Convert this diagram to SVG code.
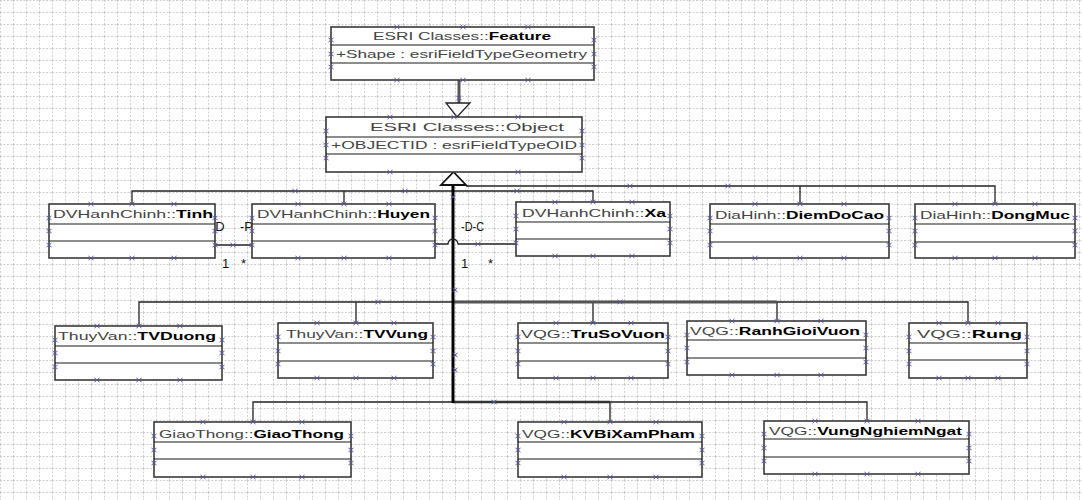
<svg xmlns="http://www.w3.org/2000/svg" xmlns:xlink="http://www.w3.org/1999/xlink" width="1082" height="500" viewBox="0 0 1082 500">
<style>
.box{fill:#fff;stroke:#3a3a3a;stroke-width:1.6}
.sep{stroke:#1a1a1a;stroke-width:1.1}
.t{font-family:"Liberation Sans",Arial,sans-serif;font-size:11.5px;fill:#444}
.b{font-weight:bold;fill:#000}
.lbl{font-family:"Liberation Sans",Arial,sans-serif;font-size:13px;fill:#111}
.ln{fill:none;stroke:#222;stroke-width:1.3}
</style>
<defs>
<pattern id="grid" width="13" height="12" patternUnits="userSpaceOnUse">
<path d="M0,0.5 H13 M0.5,0 V12" fill="none" stroke="#c4c4c4" stroke-width="0.8" stroke-dasharray="2,1.5"/>
</pattern>
<path id="x" d="M-2.5,-2 L2.5,2 M-2.5,2 L2.5,-2" fill="none" stroke="#55559a" stroke-width="1"/>
</defs>
<rect width="1082" height="500" fill="#fff"/>
<rect width="1082" height="500" fill="url(#grid)"/>

<g id="connectors">
<line x1="459" y1="80" x2="459" y2="103" stroke="#555" stroke-width="3"/>
<polygon points="446,103 470,103 457,117" fill="#fff" stroke="#222" stroke-width="1.3"/>
<path class="ln" d="M132,204 V191 H593 V202 M344,191 V204"/>
<path class="ln" d="M466,186 H995 V204 M800,186 V204"/>
<path class="ln" d="M139,326 V302 H968 V323 M356,302 V323 M593,302 V323 M777,302 V321"/>
<path d="M453,302 H777" stroke="#555" stroke-width="3" fill="none"/>
<path class="ln" d="M253,422 V402 H867 V421 M610,402 V422"/>
<path d="M453,402 H610" stroke="#333" stroke-width="2.5" fill="none"/>
<line x1="453" y1="185" x2="453" y2="403" stroke="#000" stroke-width="3"/>
<polygon points="441,185 466,185 453.5,172" fill="#fff" stroke="#111" stroke-width="1.8"/>
<path class="ln" d="M215,245 H252"/>
<path class="ln" d="M435,244 H448 A5,5 0 0 1 458,244 H516"/>
<text class="lbl" x="211" y="231">-D</text>
<text class="lbl" x="240" y="231">-P</text>
<text class="lbl" x="222" y="268">1</text>
<text class="lbl" x="241" y="268">*</text>
<text class="lbl" x="461" y="231" textLength="23" lengthAdjust="spacingAndGlyphs">-D-C</text>
<text class="lbl" x="461" y="268">1</text>
<text class="lbl" x="488" y="268">*</text>
<use href="#x" x="295" y="191"/><use href="#x" x="405" y="191"/><use href="#x" x="517" y="191"/>
<use href="#x" x="630" y="186"/><use href="#x" x="728" y="186"/><use href="#x" x="459" y="98"/>
<use href="#x" x="453" y="197"/><use href="#x" x="378" y="302"/><use href="#x" x="620" y="302"/>
<use href="#x" x="455" y="290"/><use href="#x" x="455" y="355"/><use href="#x" x="455" y="370"/>
<use href="#x" x="494" y="402"/><use href="#x" x="233" y="245"/><use href="#x" x="478" y="244"/>
</g>

<g id="feature">
<rect class="box" x="331" y="27" width="263" height="53"/>
<line class="sep" x1="331" y1="45" x2="594" y2="45"/><line class="sep" x1="331" y1="63" x2="594" y2="63"/>
<text class="t" x="373" y="40" textLength="178" lengthAdjust="spacingAndGlyphs">ESRI Classes::<tspan class="b">Feature</tspan></text>
<text class="t" x="336" y="58" textLength="251" lengthAdjust="spacingAndGlyphs">+Shape : esriFieldTypeGeometry</text>
<use href="#x" x="397" y="27"/><use href="#x" x="463" y="27"/><use href="#x" x="528" y="27"/>
<use href="#x" x="397" y="80"/><use href="#x" x="463" y="80"/><use href="#x" x="528" y="80"/>
<use href="#x" x="331" y="40"/><use href="#x" x="331" y="54"/><use href="#x" x="331" y="67"/>
<use href="#x" x="594" y="40"/><use href="#x" x="594" y="54"/><use href="#x" x="594" y="67"/>
</g>

<g id="object">
<rect class="box" x="326" y="117" width="256" height="55"/>
<line class="sep" x1="326" y1="137" x2="582" y2="137"/><line class="sep" x1="326" y1="154" x2="582" y2="154"/>
<text class="t" x="370" y="131" textLength="194" lengthAdjust="spacingAndGlyphs">ESRI Classes::Object</text>
<text class="t" x="331" y="149" textLength="246" lengthAdjust="spacingAndGlyphs">+OBJECTID : esriFieldTypeOID</text>
<use href="#x" x="390" y="117"/><use href="#x" x="454" y="117"/><use href="#x" x="518" y="117"/>
<use href="#x" x="390" y="172"/><use href="#x" x="518" y="172"/>
<use href="#x" x="326" y="131"/><use href="#x" x="326" y="145"/><use href="#x" x="326" y="158"/>
<use href="#x" x="582" y="131"/><use href="#x" x="582" y="145"/><use href="#x" x="582" y="158"/>
</g>

<g id="tinh">
<rect class="box" x="49" y="204" width="166" height="54"/>
<line class="sep" x1="49" y1="224" x2="215" y2="224"/><line class="sep" x1="49" y1="241" x2="215" y2="241"/>
<text class="t" x="53" y="218" textLength="160" lengthAdjust="spacingAndGlyphs">DVHanhChinh::<tspan class="b">Tinh</tspan></text>
<use href="#x" x="91" y="204"/><use href="#x" x="132" y="204"/><use href="#x" x="174" y="204"/>
<use href="#x" x="91" y="258"/><use href="#x" x="132" y="258"/><use href="#x" x="174" y="258"/>
<use href="#x" x="49" y="218"/><use href="#x" x="49" y="231"/><use href="#x" x="49" y="245"/>
<use href="#x" x="215" y="218"/><use href="#x" x="215" y="231"/><use href="#x" x="215" y="245"/>
</g>

<g id="huyen">
<rect class="box" x="252" y="204" width="183" height="54"/>
<line class="sep" x1="252" y1="224" x2="435" y2="224"/><line class="sep" x1="252" y1="241" x2="435" y2="241"/>
<text class="t" x="257" y="218" textLength="173" lengthAdjust="spacingAndGlyphs">DVHanhChinh::<tspan class="b">Huyen</tspan></text>
<use href="#x" x="298" y="204"/><use href="#x" x="344" y="204"/><use href="#x" x="389" y="204"/>
<use href="#x" x="298" y="258"/><use href="#x" x="344" y="258"/><use href="#x" x="389" y="258"/>
<use href="#x" x="252" y="218"/><use href="#x" x="252" y="231"/><use href="#x" x="252" y="245"/>
<use href="#x" x="435" y="218"/><use href="#x" x="435" y="231"/><use href="#x" x="435" y="245"/>
</g>

<g id="xa">
<rect class="box" x="516" y="202" width="154" height="54"/>
<line class="sep" x1="516" y1="222" x2="670" y2="222"/><line class="sep" x1="516" y1="239" x2="670" y2="239"/>
<text class="t" x="522" y="217" textLength="144" lengthAdjust="spacingAndGlyphs">DVHanhChinh::<tspan class="b">Xa</tspan></text>
<use href="#x" x="555" y="202"/><use href="#x" x="593" y="202"/><use href="#x" x="632" y="202"/>
<use href="#x" x="555" y="256"/><use href="#x" x="593" y="256"/><use href="#x" x="632" y="256"/>
<use href="#x" x="516" y="216"/><use href="#x" x="516" y="229"/><use href="#x" x="516" y="243"/>
<use href="#x" x="670" y="216"/><use href="#x" x="670" y="229"/><use href="#x" x="670" y="243"/>
</g>

<g id="diemdocao">
<rect class="box" x="710" y="204" width="179" height="54"/>
<line class="sep" x1="710" y1="224" x2="889" y2="224"/><line class="sep" x1="710" y1="242" x2="889" y2="242"/>
<text class="t" x="715" y="219" textLength="169" lengthAdjust="spacingAndGlyphs">DiaHinh::<tspan class="b">DiemDoCao</tspan></text>
<use href="#x" x="755" y="204"/><use href="#x" x="800" y="204"/><use href="#x" x="844" y="204"/>
<use href="#x" x="755" y="258"/><use href="#x" x="800" y="258"/><use href="#x" x="844" y="258"/>
<use href="#x" x="710" y="218"/><use href="#x" x="710" y="231"/><use href="#x" x="710" y="245"/>
<use href="#x" x="889" y="218"/><use href="#x" x="889" y="231"/><use href="#x" x="889" y="245"/>
</g>

<g id="dongmuc">
<rect class="box" x="915" y="204" width="160" height="54"/>
<line class="sep" x1="915" y1="224" x2="1075" y2="224"/><line class="sep" x1="915" y1="242" x2="1075" y2="242"/>
<text class="t" x="920" y="219" textLength="150" lengthAdjust="spacingAndGlyphs">DiaHinh::<tspan class="b">DongMuc</tspan></text>
<use href="#x" x="955" y="204"/><use href="#x" x="995" y="204"/><use href="#x" x="1035" y="204"/>
<use href="#x" x="955" y="258"/><use href="#x" x="995" y="258"/><use href="#x" x="1035" y="258"/>
<use href="#x" x="915" y="218"/><use href="#x" x="915" y="231"/><use href="#x" x="915" y="245"/>
<use href="#x" x="1075" y="218"/><use href="#x" x="1075" y="231"/><use href="#x" x="1075" y="245"/>
</g>

<g id="tvduong">
<rect class="box" x="55" y="326" width="167" height="54"/>
<line class="sep" x1="55" y1="346" x2="222" y2="346"/><line class="sep" x1="55" y1="363" x2="222" y2="363"/>
<text class="t" x="58" y="340" textLength="158" lengthAdjust="spacingAndGlyphs">ThuyVan::<tspan class="b">TVDuong</tspan></text>
<use href="#x" x="97" y="326"/><use href="#x" x="139" y="326"/><use href="#x" x="180" y="326"/>
<use href="#x" x="97" y="380"/><use href="#x" x="139" y="380"/><use href="#x" x="180" y="380"/>
<use href="#x" x="55" y="340"/><use href="#x" x="55" y="353"/><use href="#x" x="55" y="367"/>
<use href="#x" x="222" y="340"/><use href="#x" x="222" y="353"/><use href="#x" x="222" y="367"/>
</g>

<g id="tvvung">
<rect class="box" x="278" y="323" width="155" height="55"/>
<line class="sep" x1="278" y1="343" x2="433" y2="343"/><line class="sep" x1="278" y1="361" x2="433" y2="361"/>
<text class="t" x="286" y="338" textLength="142" lengthAdjust="spacingAndGlyphs">ThuyVan::<tspan class="b">TVVung</tspan></text>
<use href="#x" x="317" y="323"/><use href="#x" x="356" y="323"/><use href="#x" x="394" y="323"/>
<use href="#x" x="317" y="378"/><use href="#x" x="356" y="378"/><use href="#x" x="394" y="378"/>
<use href="#x" x="278" y="337"/><use href="#x" x="278" y="351"/><use href="#x" x="278" y="364"/>
<use href="#x" x="433" y="337"/><use href="#x" x="433" y="351"/><use href="#x" x="433" y="364"/>
</g>

<g id="trusovuon">
<rect class="box" x="518" y="323" width="150" height="55"/>
<line class="sep" x1="518" y1="343" x2="668" y2="343"/><line class="sep" x1="518" y1="361" x2="668" y2="361"/>
<text class="t" x="521" y="338" textLength="144" lengthAdjust="spacingAndGlyphs">VQG::<tspan class="b">TruSoVuon</tspan></text>
<use href="#x" x="556" y="323"/><use href="#x" x="593" y="323"/><use href="#x" x="631" y="323"/>
<use href="#x" x="556" y="378"/><use href="#x" x="593" y="378"/><use href="#x" x="631" y="378"/>
<use href="#x" x="518" y="337"/><use href="#x" x="518" y="351"/><use href="#x" x="518" y="364"/>
<use href="#x" x="668" y="337"/><use href="#x" x="668" y="351"/><use href="#x" x="668" y="364"/>
</g>

<g id="ranhgioivuon">
<rect class="box" x="687" y="321" width="179" height="54"/>
<line class="sep" x1="687" y1="340" x2="866" y2="340"/><line class="sep" x1="687" y1="358" x2="866" y2="358"/>
<text class="t" x="690" y="335" textLength="170" lengthAdjust="spacingAndGlyphs">VQG::<tspan class="b">RanhGioiVuon</tspan></text>
<use href="#x" x="732" y="321"/><use href="#x" x="777" y="321"/><use href="#x" x="821" y="321"/>
<use href="#x" x="732" y="375"/><use href="#x" x="777" y="375"/><use href="#x" x="821" y="375"/>
<use href="#x" x="687" y="335"/><use href="#x" x="687" y="348"/><use href="#x" x="687" y="362"/>
<use href="#x" x="866" y="335"/><use href="#x" x="866" y="348"/><use href="#x" x="866" y="362"/>
</g>

<g id="rung">
<rect class="box" x="909" y="323" width="118" height="55"/>
<line class="sep" x1="909" y1="343" x2="1027" y2="343"/><line class="sep" x1="909" y1="360" x2="1027" y2="360"/>
<text class="t" x="917" y="338" textLength="105" lengthAdjust="spacingAndGlyphs">VQG::<tspan class="b">Rung</tspan></text>
<use href="#x" x="939" y="323"/><use href="#x" x="968" y="323"/><use href="#x" x="998" y="323"/>
<use href="#x" x="939" y="378"/><use href="#x" x="968" y="378"/><use href="#x" x="998" y="378"/>
<use href="#x" x="909" y="337"/><use href="#x" x="909" y="351"/><use href="#x" x="909" y="364"/>
<use href="#x" x="1027" y="337"/><use href="#x" x="1027" y="351"/><use href="#x" x="1027" y="364"/>
</g>

<g id="giaothong">
<rect class="box" x="154" y="422" width="197" height="55"/>
<line class="sep" x1="154" y1="442" x2="351" y2="442"/><line class="sep" x1="154" y1="459" x2="351" y2="459"/>
<text class="t" x="159" y="438" textLength="185" lengthAdjust="spacingAndGlyphs">GiaoThong::<tspan class="b">GiaoThong</tspan></text>
<use href="#x" x="203" y="422"/><use href="#x" x="253" y="422"/><use href="#x" x="302" y="422"/>
<use href="#x" x="203" y="477"/><use href="#x" x="253" y="477"/><use href="#x" x="302" y="477"/>
<use href="#x" x="154" y="436"/><use href="#x" x="154" y="450"/><use href="#x" x="154" y="463"/>
<use href="#x" x="351" y="436"/><use href="#x" x="351" y="450"/><use href="#x" x="351" y="463"/>
</g>

<g id="kvbixampham">
<rect class="box" x="518" y="422" width="184" height="55"/>
<line class="sep" x1="518" y1="442" x2="702" y2="442"/><line class="sep" x1="518" y1="459" x2="702" y2="459"/>
<text class="t" x="522" y="438" textLength="173" lengthAdjust="spacingAndGlyphs">VQG::<tspan class="b">KVBiXamPham</tspan></text>
<use href="#x" x="564" y="422"/><use href="#x" x="610" y="422"/><use href="#x" x="656" y="422"/>
<use href="#x" x="564" y="477"/><use href="#x" x="610" y="477"/><use href="#x" x="656" y="477"/>
<use href="#x" x="518" y="436"/><use href="#x" x="518" y="450"/><use href="#x" x="518" y="463"/>
<use href="#x" x="702" y="436"/><use href="#x" x="702" y="450"/><use href="#x" x="702" y="463"/>
</g>

<g id="vungnghiemngat">
<rect class="box" x="764" y="421" width="205" height="53"/>
<line class="sep" x1="764" y1="439" x2="969" y2="439"/><line class="sep" x1="764" y1="457" x2="969" y2="457"/>
<text class="t" x="769" y="435" textLength="193" lengthAdjust="spacingAndGlyphs">VQG::<tspan class="b">VungNghiemNgat</tspan></text>
<use href="#x" x="815" y="421"/><use href="#x" x="867" y="421"/><use href="#x" x="918" y="421"/>
<use href="#x" x="815" y="474"/><use href="#x" x="867" y="474"/><use href="#x" x="918" y="474"/>
<use href="#x" x="764" y="434"/><use href="#x" x="764" y="448"/><use href="#x" x="764" y="461"/>
<use href="#x" x="969" y="434"/><use href="#x" x="969" y="448"/><use href="#x" x="969" y="461"/>
</g>
</svg>
